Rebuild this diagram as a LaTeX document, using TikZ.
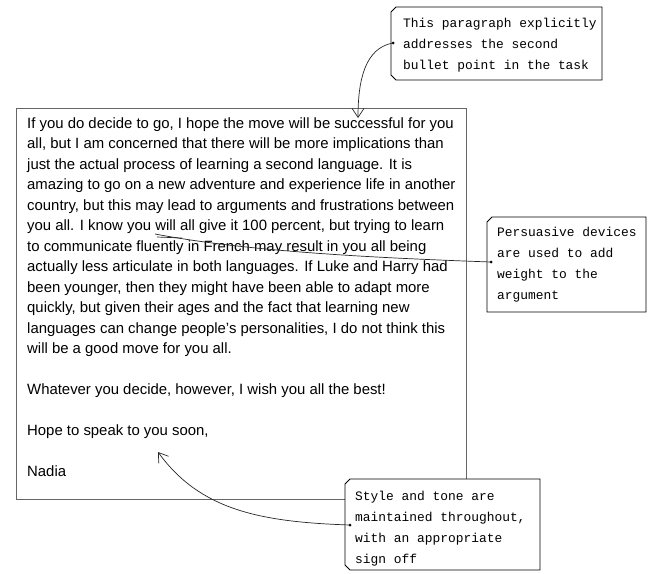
\documentclass[tikz,border=0pt]{standalone}
\usepackage{fontspec}
\setmainfont{Liberation Sans}
\newfontfamily\notefont{Liberation Mono}
\usetikzlibrary{arrows.meta}
\begin{document}
\begin{tikzpicture}[x=1pt,y=-1pt,
  ln/.style={anchor=base west,inner sep=0pt,font=\fontsize{14.9}{18}\selectfont},
  note/.style={draw,thick,fill=white,inner sep=0pt},
  nt/.style={anchor=base west,inner sep=0pt,font=\notefont\fontsize{12.9}{15}\selectfont},
  conn/.style={draw=black!85,line width=0.7pt},
  tip/.style={-{Straight Barb[length=9pt,width=12pt]}},
  dot/.style={circle,fill=black,inner sep=0pt,minimum size=3pt}]
\useasboundingbox (0,0) rectangle (652,573);
% letter box
\draw[black!60,line width=1pt] (466,480) -- (466,108) -- (16,108) -- (16,499) -- (345,499);
\node[ln] (l1) at (27,128) {If you do decide to go, I hope the move will be successful for you};
\node[ln] (l2) at (27,148.5) {all, but I am concerned that there will be more implications than};
\node[ln] (l3) at (27,169) {just the actual process of learning a second language. It is};
\node[ln] (l4) at (27,189.5) {amazing to go on a new adventure and experience life in another};
\node[ln] (l5) at (27,210) {country, but this may lead to arguments and frustrations between};
\node[ln] (l6) at (27,230.5) {you all. I know you will all give it 100 percent, but trying to learn};
\node[ln] (l7) at (27,251) {to communicate fluently in French may result in you all being};
\node[ln] (l8) at (27,271.5) {actually less articulate in both languages. If Luke and Harry had};
\node[ln] (l9) at (27,292) {been younger, then they might have been able to adapt more};
\node[ln] (l10) at (27,312.5) {quickly, but given their ages and the fact that learning new};
\node[ln] (l11) at (27,333) {languages can change people’s personalities, I do not think this};
\node[ln] (l12) at (27,353.5) {will be a good move for you all.};
\node[ln] (l13) at (27,394.5) {Whatever you decide, however, I wish you all the best!};
\node[ln] (l14) at (27,435.5) {Hope to speak to you soon,};
\node[ln] (l15) at (27,476.5) {Nadia};
% note 1
\draw[note] (396,7) -- (602,7) -- (602,80) -- (396,80) -- (391,75) -- (391,12) -- cycle;
\node[nt] (n1a) at (403,27) {This paragraph explicitly};
\node[nt] (n1b) at (403,48) {addresses the second};
\node[nt] (n1c) at (403,69) {bullet point in the task};
\node[dot] (d1) at (393,43) {};
\node (t1) at (358,118) {};
\draw[conn,tip] (d1.center) .. controls (365,48) and (358,80) .. (t1.center);
% note 2
\draw[note] (492,217) -- (646,217) -- (646,312) -- (487,312) -- (487,222) -- cycle;
\node[nt] (n2a) at (497,236) {Persuasive devices};
\node[nt] (n2b) at (497,257) {are used to add};
\node[nt] (n2c) at (497,278) {weight to the};
\node[nt] (n2d) at (497,299) {argument};
\node[dot] (d2) at (491,262) {};
\node (t2) at (155,234) {};
\draw[conn] (d2.center) .. controls (380,258) and (250,252) .. (t2.center);
\draw[conn] (157,237) -- (182,238);
% note 3
\draw[note] (350,479) -- (540,479) -- (540,570) -- (350,570) -- (345,565) -- (345,484) -- cycle;
\node[nt] (n3a) at (355,500) {Style and tone are};
\node[nt] (n3b) at (355,521) {maintained throughout,};
\node[nt] (n3c) at (355,542) {with an appropriate};
\node[nt] (n3d) at (355,563) {sign off};
\node[dot] (d3) at (350,525) {};
\node (t3) at (158,452) {};
\draw[conn,tip] (d3.center) .. controls (260,522) and (200,510) .. (t3.center);
\end{tikzpicture}
\end{document}
